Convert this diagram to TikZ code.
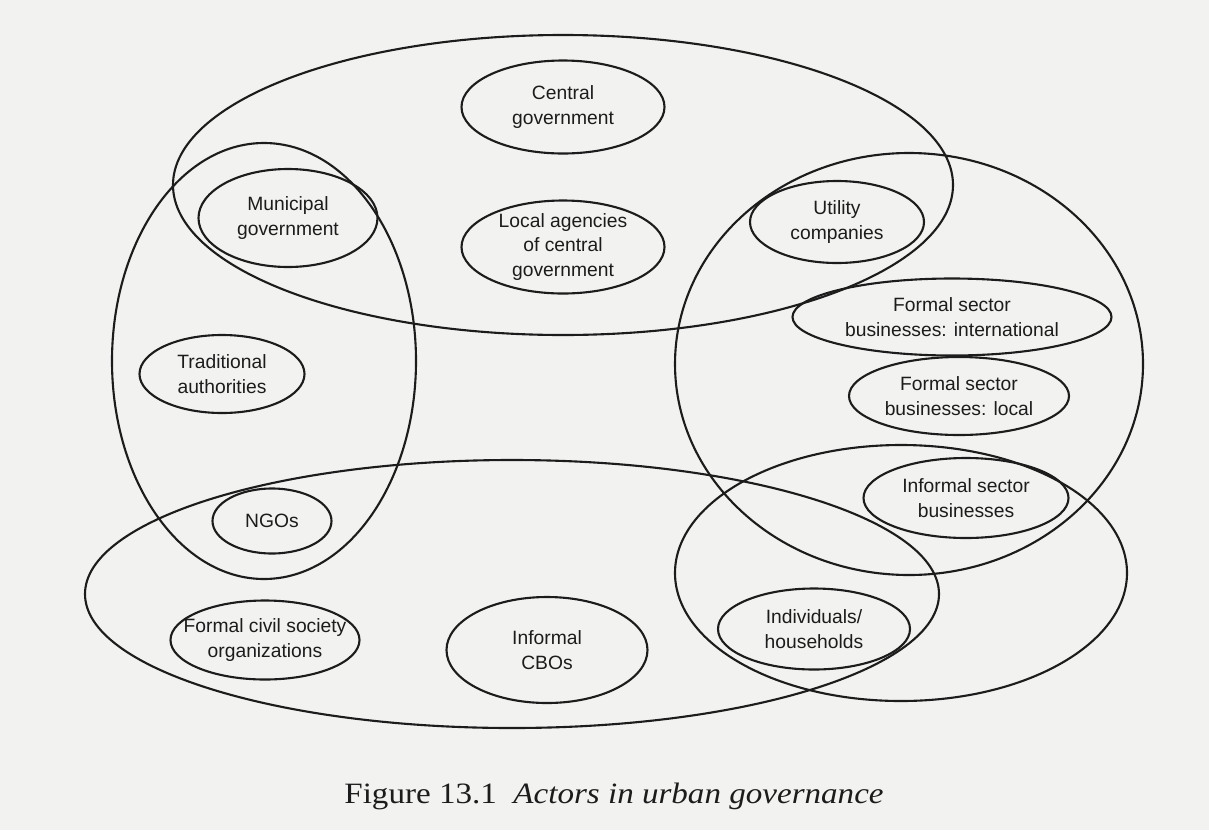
\documentclass[tikz,border=0pt]{standalone}
\usepackage{fontspec}
\setmainfont{Liberation Sans}
\newfontfamily\capfont[FakeStretch=1.12]{Liberation Serif}
\usetikzlibrary{shapes.geometric}

\definecolor{paper}{RGB}{242,242,240}
\definecolor{ink}{RGB}{28,28,28}

\tikzset{
  group/.style={draw=ink, line width=1.5pt},
  actor/.style 2 args={draw=ink, text=ink, line width=1.5pt, ellipse, inner sep=-20pt,
    align=center, minimum width=#1*0.025cm, minimum height=#2*0.025cm,
    font=\fontsize{13.7}{17.5}\selectfont},
}

\begin{document}
\begin{tikzpicture}[x=0.025cm, y=-0.025cm]
  % fundal
  \fill[paper] (0,0) rectangle (1209,830);

  % grupurile mari (guvern, stanga, firme, societate civila, gospodarii)
  \foreach \cx/\cy/\rx/\ry in {563/185/390/150, 264/361/152/218,
      909/364/234/211, 512/594/427/134, 901/573/226/128}
  {
    \draw[group] (\cx,\cy) ellipse [x radius=\rx, y radius=\ry];
  }

  % actorii
  \node[actor={203}{93}] (central) at (563,107) {Central\\government};
  \node[actor={179}{98}] (municipal) at (288,218) {Municipal\\government};
  \node[actor={203}{93}] (agencies) at (563,247) {Local agencies\\of central\\government};
  \node[actor={174}{82}] (utility) at (837,222) {Utility\\companies};
  \node[actor={165}{78}] (traditional) at (222,374) {Traditional\\authorities};
  \node[actor={319}{77}] (intl) at (952,317) {Formal sector\\businesses: international};
  \node[actor={220}{78}] (localbiz) at (959,396) {Formal sector\\businesses: local};
  \node[actor={205}{80}] (informal) at (966,498) {Informal sector\\businesses};
  \node[actor={119}{65}] (ngos) at (272,521) {NGOs};
  \node[actor={189}{79}] (civil) at (265,640) {Formal civil society\\organizations};
  \node[actor={201}{106}] (cbos) at (547,650) {Informal\\CBOs};
  \node[actor={192}{81}] (households) at (814,629) {Individuals/\\households};

  % titlul figurii
  \node[anchor=base, text=ink, font=\capfont\fontsize{21}{25}\selectfont] (caption) at (614,803)
    {Figure 13.1\ \ \textit{Actors in urban governance}};
\end{tikzpicture}
\end{document}
